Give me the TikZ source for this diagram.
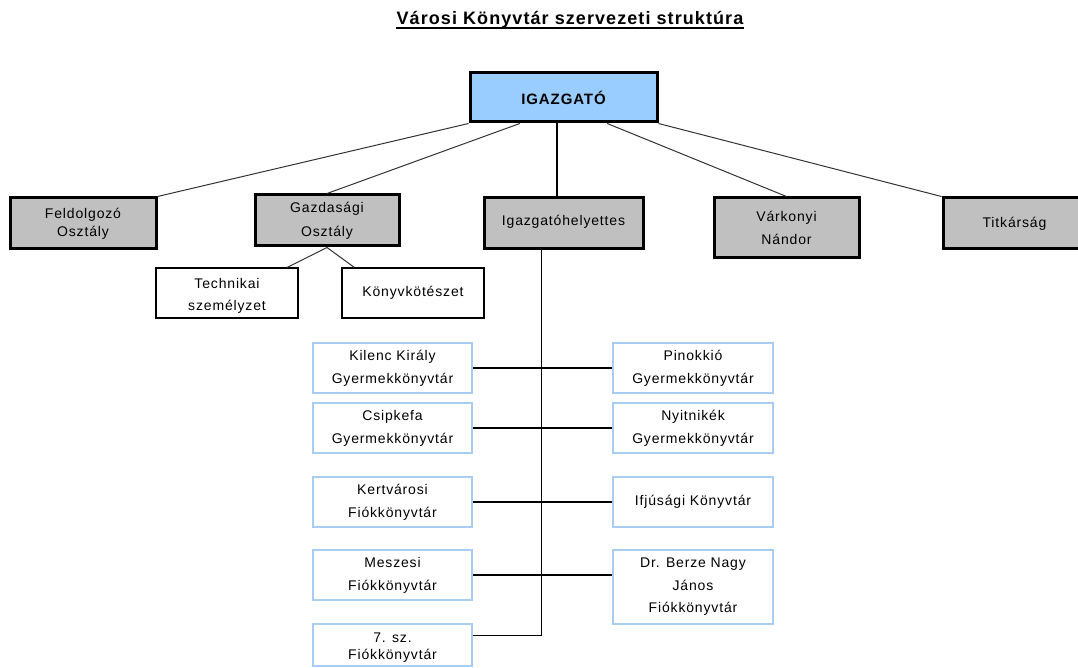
\documentclass[tikz,border=0pt]{standalone}
\usepackage{fontspec}
\setmainfont{Liberation Sans}[LetterSpace=6]
\usetikzlibrary{calc}
\definecolor{boxgray}{HTML}{C0C0C0}
\definecolor{bossblue}{HTML}{99CCFF}
\definecolor{libblue}{HTML}{A9CDF2}
\definecolor{conncol}{HTML}{333333}
\tikzset{
  basebox/.style={rectangle, inner sep=0pt, align=center, font=\fontsize{14}{23}\selectfont},
  graybox/.style={basebox, draw=black, line width=3pt, fill=boxgray},
  bossbox/.style={basebox, draw=black, line width=3pt, fill=bossblue, font=\fontsize{15}{18}\selectfont\bfseries},
  whitebox/.style={basebox, draw=black, line width=1.2pt, fill=white},
  libbox/.style={basebox, draw=libblue, line width=2.5pt, fill=white},
  boxtext/.style={inner sep=0pt, align=center, font=\fontsize{14}{22}\selectfont},
  conn/.style={draw=conncol, line width=1pt},
  trunk/.style={draw=black, line width=1.3pt},
}
\begin{document}
\begin{tikzpicture}[x=1pt,y=-1pt]
\useasboundingbox (0,0) rectangle (1078,668);
\clip (0,0) rectangle (1078,668);
\fill[white] (0,0) rectangle (1078,668);

% title
\node[inner sep=0pt, anchor=base, font=\fontsize{18}{20}\selectfont\bfseries] (title) at (570,25) {Városi Könyvtár szervezeti struktúra};
\draw[line width=1.8pt] ([yshift=-3pt]title.base west) -- ([yshift=-3pt]title.base east);

% top level
\node[bossbox, minimum width=187pt, minimum height=49pt] (igaz) at (563.5,97.5) {IGAZGATÓ};

\node[graybox, minimum width=146pt, minimum height=51pt, font=\fontsize{14}{18}\selectfont] (feld) at (83,223.5) {Feldolgozó\\Osztály};
\node[graybox, minimum width=144pt, minimum height=51pt, font=\fontsize{14}{24}\selectfont] (gazd) at (327,220.5) {Gazdasági\\Osztály};
\node[graybox, minimum width=159pt, minimum height=51pt] (igazh) at (563.5,223.5) {\raisebox{6pt}{Igazgatóhelyettes}};
\node[graybox, minimum width=145pt, minimum height=60pt] (vark) at (786.5,228) {Várkonyi\\Nándor};
\node[graybox, minimum width=143pt, minimum height=51pt] (titk) at (1014.5,223.5) {\raisebox{3pt}{Titkárság}};

% Gazdasági children
\node[whitebox, minimum width=142pt, minimum height=50pt] (tech) at (227,293) {};
\node[boxtext] (techtext) at (227,296) {Technikai\\személyzet};
\node[whitebox, minimum width=142pt, minimum height=50pt] (konyv) at (413,293) {Könyvkötészet};

% libraries
\node[libbox, minimum width=159pt, minimum height=50pt] (kilenc) at (392.5,368) {Kilenc Király\\Gyermekkönyvtár};
\node[libbox, minimum width=160pt, minimum height=50pt] (pinok) at (693,368) {Pinokkió\\Gyermekkönyvtár};
\node[libbox, minimum width=159pt, minimum height=50pt] (csipke) at (392.5,428) {Csipkefa\\Gyermekkönyvtár};
\node[libbox, minimum width=160pt, minimum height=50pt] (nyit) at (693,428) {Nyitnikék\\Gyermekkönyvtár};
\node[libbox, minimum width=159pt, minimum height=50pt] (kertv) at (392.5,502) {Kertvárosi\\Fiókkönyvtár};
\node[libbox, minimum width=160pt, minimum height=50pt] (ifj) at (693,502) {Ifjúsági Könyvtár};
\node[libbox, minimum width=159pt, minimum height=50pt] (mesz) at (392.5,575) {Meszesi\\Fiókkönyvtár};
\node[libbox, minimum width=160pt, minimum height=74pt, font=\fontsize{14}{22.5}\selectfont] (berze) at (693,587) {Dr. Berze Nagy\\János\\Fiókkönyvtár};
\node[libbox, minimum width=159pt, minimum height=42pt] (hetes) at (392.5,645) {};
\node[boxtext, font=\fontsize{14}{17}\selectfont] (hetestext) at (392.5,648) {7. sz.\\Fiókkönyvtár};

% connectors from IGAZGATÓ
\coordinate (igB) at ($(igaz.south west)!0.27!(igaz.south east)$);
\coordinate (igV) at ($(igaz.south west)!0.465!(igaz.south east)$);
\coordinate (igD) at ($(igaz.south west)!0.73!(igaz.south east)$);
\draw[conn] (igaz.south west) -- (feld.north east);
\draw[conn] (igB) -- (gazd.north);
\draw[trunk] (igV) -- (igV |- igazh.north);
\draw[conn] (igD) -- (vark.north);
\draw[conn] (igaz.south east) -- (titk.north west);

% Gazdasági children connectors
\coordinate (techT) at ($(tech.north west)!0.92!(tech.north east)$);
\coordinate (konyvT) at ($(konyv.north west)!0.09!(konyv.north east)$);
\draw[conn] (gazd.south) -- (techT);
\draw[conn] (gazd.south) -- (konyvT);

% trunk to libraries
\coordinate (vb) at ($(igazh.south west)!0.365!(igazh.south east)$);
\coordinate (h7) at ($(hetes.north east)!0.29!(hetes.south east)$);
\draw[trunk] (vb) -- (vb |- h7);
\draw[trunk] (kilenc.east) -- (pinok.west);
\draw[trunk] (csipke.east) -- (nyit.west);
\draw[trunk] (kertv.east) -- (ifj.west);
\draw[trunk] (mesz.east) -- (mesz.east -| berze.west);
\draw[trunk] (h7) -- (vb |- h7);
\end{tikzpicture}
\end{document}
